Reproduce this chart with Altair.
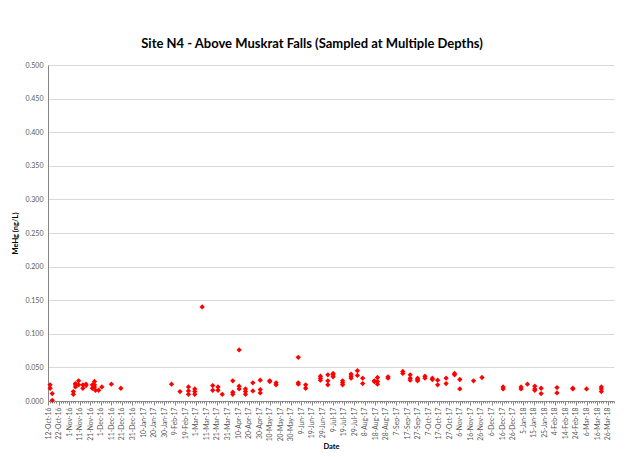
import altair as alt
import pandas as pd

# ---- data ----
dates = [
    "2016-10-14", "2016-10-14", "2016-10-16", "2016-10-16",
    "2016-11-05", "2016-11-05", "2016-11-07", "2016-11-07", "2016-11-07",
    "2016-11-10", "2016-11-10", "2016-11-14", "2016-11-14", "2016-11-17", "2016-11-17",
    "2016-11-23", "2016-11-23", "2016-11-25", "2016-11-25", "2016-11-25",
    "2016-11-26", "2016-11-29", "2016-12-02", "2016-12-11", "2016-12-20",
    "2017-02-06", "2017-02-14",
    "2017-02-22", "2017-02-22", "2017-02-22",
    "2017-02-28", "2017-02-28", "2017-02-28",
    "2017-03-07",
    "2017-03-17", "2017-03-17", "2017-03-22", "2017-03-22", "2017-03-26",
    "2017-04-05", "2017-04-05", "2017-04-05",
    "2017-04-11", "2017-04-11", "2017-04-11",
    "2017-04-17", "2017-04-17", "2017-04-17",
    "2017-04-24", "2017-04-24",
    "2017-05-01", "2017-05-01", "2017-05-01",
    "2017-05-10", "2017-05-10", "2017-05-16", "2017-05-16",
    "2017-06-06", "2017-06-06", "2017-06-06",
    "2017-06-13", "2017-06-13",
    "2017-06-27", "2017-06-27", "2017-06-27",
    "2017-07-04", "2017-07-04", "2017-07-04",
    "2017-07-09", "2017-07-09", "2017-07-09",
    "2017-07-18", "2017-07-18", "2017-07-18",
    "2017-07-26", "2017-07-26", "2017-07-26",
    "2017-08-01", "2017-08-01", "2017-08-06", "2017-08-06",
    "2017-08-17", "2017-08-17",
    "2017-08-20", "2017-08-20", "2017-08-20",
    "2017-08-30", "2017-08-30",
    "2017-09-13", "2017-09-13",
    "2017-09-20", "2017-09-20", "2017-09-20",
    "2017-09-27", "2017-09-27", "2017-09-27",
    "2017-10-04", "2017-10-04", "2017-10-11", "2017-10-11",
    "2017-10-16", "2017-10-16", "2017-10-24", "2017-10-24",
    "2017-11-01", "2017-11-01", "2017-11-06", "2017-11-06",
    "2017-11-19", "2017-11-27",
    "2017-12-17", "2017-12-17",
    "2018-01-03", "2018-01-03", "2018-01-09",
    "2018-01-16", "2018-01-16", "2018-01-16",
    "2018-01-22", "2018-01-22",
    "2018-02-06", "2018-02-06",
    "2018-02-21", "2018-02-21", "2018-03-06",
    "2018-03-20", "2018-03-20", "2018-03-20",
]
mehg = [
    0.024, 0.019, 0.011, 0.001,
    0.014, 0.010, 0.024, 0.026, 0.021,
    0.030, 0.024, 0.024, 0.019, 0.025, 0.023,
    0.024, 0.019, 0.029, 0.024, 0.021,
    0.016, 0.016, 0.021, 0.025, 0.019,
    0.025, 0.014,
    0.021, 0.015, 0.010,
    0.018, 0.014, 0.010,
    0.140,
    0.023, 0.016, 0.021, 0.016, 0.010,
    0.030, 0.013, 0.010,
    0.076, 0.022, 0.018,
    0.018, 0.014, 0.010,
    0.027, 0.015,
    0.031, 0.017, 0.012,
    0.030, 0.029, 0.027, 0.024,
    0.065, 0.027, 0.025,
    0.024, 0.019,
    0.037, 0.034, 0.031,
    0.039, 0.030, 0.024,
    0.041, 0.039, 0.036,
    0.030, 0.027, 0.024,
    0.040, 0.037, 0.034,
    0.045, 0.038, 0.034, 0.026,
    0.030, 0.029,
    0.035, 0.029, 0.025,
    0.036, 0.034,
    0.044, 0.041,
    0.039, 0.034, 0.031,
    0.034, 0.032, 0.030,
    0.037, 0.034, 0.034, 0.032,
    0.031, 0.024, 0.034, 0.026,
    0.041, 0.039, 0.032, 0.018,
    0.030, 0.035,
    0.021, 0.018,
    0.021, 0.018, 0.025,
    0.022, 0.018, 0.016,
    0.019, 0.011,
    0.020, 0.012,
    0.019, 0.018, 0.018,
    0.021, 0.018, 0.014,
]
y_ticks = [0.0, 0.05, 0.1, 0.15, 0.2, 0.25, 0.3, 0.35, 0.4, 0.45, 0.5]
x_start = "2016-10-12"
x_last_label = "2018-03-26"
x_end = "2018-04-01"

df = pd.DataFrame({"date": dates, "mehg": mehg})

def dt(ts):
    return alt.DateTime(year=ts.year, month=ts.month, date=ts.day, utc=True)

major = [dt(t) for t in pd.date_range(x_start, x_last_label, freq="10D")]
minor = [dt(t) for t in pd.date_range(x_start, x_end, freq="2D")]
xdomain = [dt(pd.Timestamp(x_start)), dt(pd.Timestamp(x_end))]

FONT = "Lato"
LABEL = "#595959"
AXIS = "#868686"

xscale = alt.Scale(type="utc", domain=xdomain, nice=False)
yscale = alt.Scale(domain=[0, 0.5], nice=False)

points = alt.Chart(df).mark_point(
    shape="diamond", filled=True, color="#ff0000", size=28, opacity=1
).encode(
    x=alt.X("date:T", scale=xscale,
            axis=alt.Axis(orient="bottom", values=major, format="%-d-%b-%y",
                          labelAngle=270, labelFontSize=6.8, labelColor=LABEL,
                          labelFont=FONT, labelPadding=2, tickSize=4,
                          tickColor=AXIS, domainColor=AXIS, grid=False,
                          labelOverlap=False, labelFlush=False,
                          title="Date", titleFont=FONT, titleFontSize=7.5,
                          titleFontWeight="bold", titleColor="#000000",
                          titlePadding=2, titleAnchor="middle")),
    y=alt.Y("mehg:Q", scale=yscale,
            axis=alt.Axis(values=y_ticks, format=".3f", labelFontSize=7,
                          labelColor=LABEL, labelFont=FONT, tickSize=0,
                          labelPadding=5, domainColor=AXIS, grid=True,
                          gridColor="#d9d9d9", title="MeHg (ng/L)",
                          titleFont=FONT, titleFontSize=7.5,
                          titleFontWeight="bold", titleColor="#000000",
                          titlePadding=6)),
)

minor_layer = alt.Chart(df).mark_point(opacity=0).encode(
    x=alt.X("date:T", scale=xscale,
            axis=alt.Axis(orient="bottom", values=minor, labels=False, tickSize=2,
                          tickColor=AXIS, domain=False, grid=False, title="")),
)

chart = alt.layer(points, minor_layer).resolve_axis(x="independent").properties(
    width=566, height=336,
    autosize=alt.AutoSizeParams(type="none"),
    padding={"left": 40, "top": 57, "right": 10, "bottom": 56},
    title=alt.TitleParams("Site N4 -  Above Muskrat Falls (Sampled at Multiple Depths)",
                          font=FONT, fontSize=13, fontWeight="bold",
                          color="#000000", anchor="middle", dx=-19, offset=10),
    background="#ffffff",
).configure_view(stroke="transparent")

chart.save("out.html", embed_options={"renderer": "svg", "actions": False})
